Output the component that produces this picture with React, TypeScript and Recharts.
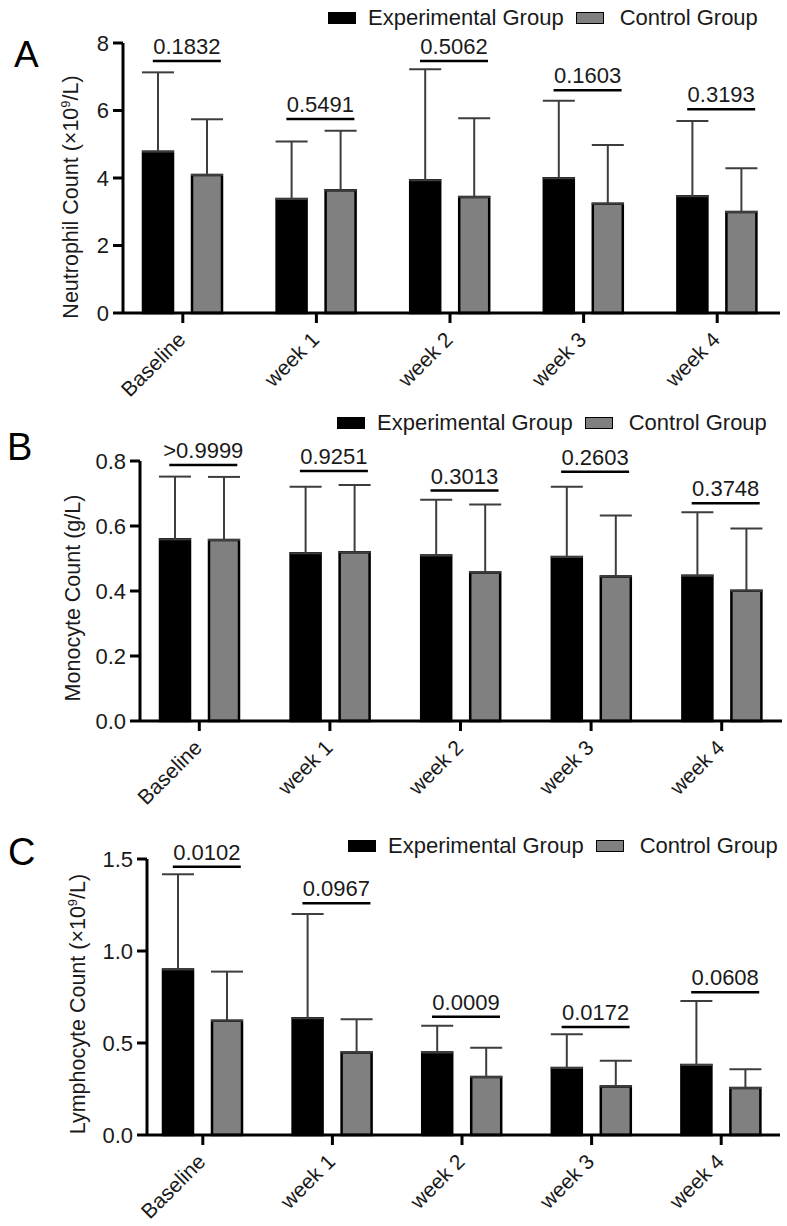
import React from "react";
import { ComposedChart, Bar, Scatter, XAxis, YAxis, ErrorBar, Legend, Label } from "recharts";

const categories = ["Baseline", "week 1", "week 2", "week 3", "week 4"];
const seriesNames = ["Experimental Group", "Control Group"];

// Neutrophils (x10^9/L): mean and SD per visit
const neutroExp = [4.78, 3.38, 3.93, 3.99, 3.46];
const neutroExpSd = [2.35, 1.7, 3.29, 2.3, 2.23];
const neutroCtrl = [4.09, 3.64, 3.44, 3.24, 2.99];
const neutroCtrlSd = [1.65, 1.76, 2.33, 1.74, 1.3];
const neutroP = ["0.1832", "0.5491", "0.5062", "0.1603", "0.3193"];
const neutroBracket = [7.47, 5.75, 7.47, 6.6, 6.04];
const neutroTicks = [0, 2, 4, 6, 8];

// Monocytes (g/L)
const monoExp = [0.559, 0.516, 0.509, 0.505, 0.447];
const monoExpSd = [0.193, 0.205, 0.172, 0.216, 0.195];
const monoCtrl = [0.557, 0.519, 0.457, 0.445, 0.401];
const monoCtrlSd = [0.194, 0.207, 0.209, 0.187, 0.191];
const monoP = [">0.9999", "0.9251", "0.3013", "0.2603", "0.3748"];
const monoBracket = [0.788, 0.769, 0.709, 0.767, 0.67];
const monoTicks = [0, 0.2, 0.4, 0.6, 0.8];

// Lymphocytes (x10^9/L)
const lymphExp = [0.9, 0.634, 0.449, 0.364, 0.38];
const lymphExpSd = [0.517, 0.567, 0.145, 0.183, 0.348];
const lymphCtrl = [0.621, 0.449, 0.315, 0.263, 0.255];
const lymphCtrlSd = [0.267, 0.18, 0.159, 0.141, 0.102];
const lymphP = ["0.0102", "0.0967", "0.0009", "0.0172", "0.0608"];
const lymphBracket = [1.458, 1.259, 0.643, 0.587, 0.776];
const lymphTicks = [0, 0.5, 1.0, 1.5];

const FONT = "'Liberation Sans', Arial, sans-serif";
const INK = "#1a1a1a";

const buildRows = (
  exp: number[],
  expSd: number[],
  ctrl: number[],
  ctrlSd: number[],
  bracket: number[],
  p: string[]
) =>
  categories.map((name, i) => ({
    name,
    exp: exp[i],
    expErr: [0, expSd[i]],
    ctrl: ctrl[i],
    ctrlErr: [0, ctrlSd[i]],
    bracket: bracket[i],
    p: p[i],
  }));

const CategoryTick = ({ x, y, payload }: any) => (
  <g transform={`translate(${x + 4},${y + 16}) rotate(-45)`}>
    <text textAnchor="end" fontSize={21} fill={INK}>
      {payload.value}
    </text>
  </g>
);

// p-value with the bracket line under it
const PBracket = ({ cx, cy, payload }: any) => {
  if (cx == null || cy == null) return null;
  const mid = cx + 4;
  return (
    <g>
      <line x1={mid - 34} x2={mid + 34} y1={cy} y2={cy} stroke="#000" strokeWidth={2.5} />
      <text x={mid} y={cy - 7} textAnchor="middle" fontSize={22} fill={INK}>
        {payload.p}
      </text>
    </g>
  );
};

const renderLegend = (props: any) => {
  const items = (props.payload || [])
    .filter((e: any) => seriesNames.includes(e.value))
    .sort((a: any, b: any) => seriesNames.indexOf(a.value) - seriesNames.indexOf(b.value));
  return (
    <div style={{ display: "flex", alignItems: "center", fontSize: 22, lineHeight: "24px", color: INK, fontFamily: FONT, whiteSpace: "nowrap" }}>
      {items.map((e: any, i: number) => (
        <div key={e.value} style={{ display: "flex", alignItems: "center", marginLeft: i === 0 ? 0 : 12 }}>
          <span
            style={{
              display: "inline-block",
              width: 28,
              height: 12,
              background: e.color,
              border: "1.5px solid #000",
              boxSizing: "border-box",
              marginRight: i === 0 ? 12 : 16,
            }}
          />
          <span>{e.value}</span>
        </div>
      ))}
    </div>
  );
};

const AxisTitle = ({ viewBox, x, text, sup, after }: any) => {
  const cy = viewBox.y + viewBox.height / 2;
  return (
    <text x={x} y={cy + 7} transform={`rotate(-90 ${x} ${cy + 7})`} textAnchor="middle" fontSize={21.5} fill={INK}>
      {text}
      {sup && (
        <tspan fontSize={13} dy={-8}>
          {sup}
        </tspan>
      )}
      {after && <tspan dy={sup ? 8 : 0}>{after}</tspan>}
    </text>
  );
};

interface PanelProps {
  top: number;
  height: number;
  rows: any[];
  ticks: number[];
  fmt: (v: number) => string;
  axisLeft: number;
  plotTop: number;
  plotBottom: number;
  plotRight: number;
  pad: { left: number; right: number };
  title: { text: string; sup?: string; after?: string; x: number; shift?: number };
  legend: { top: number; left: number };
  letter: { text: string; left: number; top: number; size: number };
}

const Panel = ({ top, height, rows, ticks, fmt, axisLeft, plotTop, plotBottom, plotRight, pad, title, legend, letter }: PanelProps) => (
  <div style={{ position: "absolute", left: 0, top, width: 787, height, fontFamily: FONT }}>
    <div
      style={{
        position: "absolute",
        left: letter.left,
        top: letter.top,
        fontSize: letter.size,
        lineHeight: 1,
        color: "#000",
        zIndex: 2,
      }}
    >
      {letter.text}
    </div>
    <ComposedChart
      width={787}
      height={height}
      data={rows}
      margin={{ top: plotTop, right: 787 - plotRight, left: 0, bottom: 0 }}
      barSize={30}
      barGap={19}
    >
      <XAxis
        dataKey="name"
        height={height - plotBottom}
        padding={pad}
        axisLine={{ stroke: "#000", strokeWidth: 3 }}
        tickLine={{ stroke: "#000", strokeWidth: 3 }}
        tickSize={10}
        tick={<CategoryTick />}
        interval={0}
      />
      <YAxis
        width={axisLeft}
        domain={[ticks[0], ticks[ticks.length - 1]]}
        ticks={ticks}
        tickFormatter={fmt}
        axisLine={{ stroke: "#000", strokeWidth: 3 }}
        tickLine={{ stroke: "#000", strokeWidth: 3 }}
        tickSize={10}
        tickMargin={4}
        tick={{ fontSize: 22, fill: INK }}
      >
        <Label
          content={(p: any) => (
            <AxisTitle viewBox={{ ...p.viewBox, y: p.viewBox.y + (title.shift || 0) }} x={title.x} text={title.text} sup={title.sup} after={title.after} />
          )}
        />
      </YAxis>
      <Legend
        verticalAlign="middle"
        align="center"
        wrapperStyle={{ top: legend.top, left: legend.left, width: "auto" }}
        content={renderLegend}
      />
      <Bar dataKey="exp" name={seriesNames[0]} fill="#000" stroke="#000" strokeWidth={2.5} isAnimationActive={false}>
        <ErrorBar dataKey="expErr" direction="y" width={16} stroke="#3d3d3d" strokeWidth={2} isAnimationActive={false} />
      </Bar>
      <Bar dataKey="ctrl" name={seriesNames[1]} fill="#808080" stroke="#000" strokeWidth={2.5} isAnimationActive={false}>
        <ErrorBar dataKey="ctrlErr" direction="y" width={16} stroke="#3d3d3d" strokeWidth={2} isAnimationActive={false} />
      </Bar>
      <Scatter dataKey="bracket" legendType="none" shape={<PBracket />} isAnimationActive={false} />
    </ComposedChart>
  </div>
);

export default function App() {
  const neutroRows = buildRows(neutroExp, neutroExpSd, neutroCtrl, neutroCtrlSd, neutroBracket, neutroP);
  const monoRows = buildRows(monoExp, monoExpSd, monoCtrl, monoCtrlSd, monoBracket, monoP);
  const lymphRows = buildRows(lymphExp, lymphExpSd, lymphCtrl, lymphCtrlSd, lymphBracket, lymphP);

  return (
    <div style={{ position: "absolute", left: 0, top: 0, width: 787, height: 1226, background: "#fff" }}>
      <Panel
        top={0}
        height={400}
        rows={neutroRows}
        ticks={neutroTicks}
        fmt={(v) => String(v)}
        axisLeft={123}
        plotTop={43}
        plotBottom={313}
        plotRight={780}
        pad={{ left: -7, right: -4 }}
        title={{ text: "Neutrophil Count (×10", sup: "9", after: "/L)", x: 78, shift: 12 }}
        legend={{ top: 6, left: 328 }}
        letter={{ text: "A", left: 14, top: 36, size: 37 }}
      />
      <Panel
        top={400}
        height={410}
        rows={monoRows}
        ticks={monoTicks}
        fmt={(v) => v.toFixed(1)}
        axisLeft={140}
        plotTop={61}
        plotBottom={321}
        plotRight={782}
        pad={{ left: -6, right: -5 }}
        title={{ text: "Monocyte Count (g/L)", x: 80 }}
        legend={{ top: 11, left: 337 }}
        letter={{ text: "B", left: 7, top: 28, size: 38 }}
      />
      <Panel
        top={810}
        height={416}
        rows={lymphRows}
        ticks={lymphTicks}
        fmt={(v) => v.toFixed(1)}
        axisLeft={147}
        plotTop={49}
        plotBottom={325}
        plotRight={780}
        pad={{ left: -9, right: -6 }}
        title={{ text: "Lymphocyte Count (×10", sup: "9", after: "/L)", x: 85 }}
        legend={{ top: 24, left: 348 }}
        letter={{ text: "C", left: 8, top: 23, size: 38 }}
      />
    </div>
  );
}
